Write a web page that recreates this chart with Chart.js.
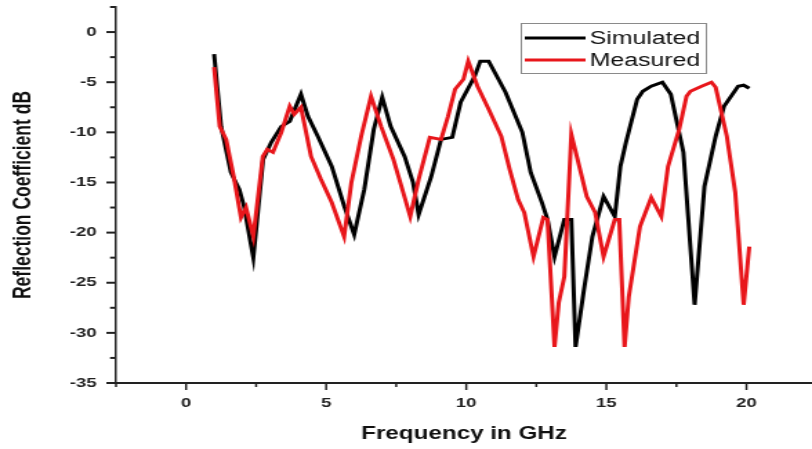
<!DOCTYPE html>
<html>
<head>
<meta charset="utf-8">
<script src="https://cdn.jsdelivr.net/npm/chart.js@4/dist/chart.umd.min.js"></script>
<style>
  html, body { margin: 0; padding: 0; background: #fff; overflow: hidden; }
  #wrap { width: 812px; height: 449px; overflow: hidden; }
  #c { display: block; transform: scaleX(1.381); transform-origin: 0 0; }
</style>
</head>
<body>
<div id="wrap"><canvas id="c" width="588" height="449"></canvas></div>
<script>
// Data (frequency in GHz, reflection coefficient in dB)
const simFreq = [1.0, 1.25, 1.6, 1.9, 2.07, 2.4, 2.75, 3.04, 3.4, 3.7, 4.1, 4.35, 4.7, 5.2, 5.65, 6.0, 6.36, 6.7, 7.0, 7.3, 7.8, 8.1, 8.3, 8.75, 9.1, 9.5, 9.8, 10.3, 10.5, 10.8, 11.4, 12.0, 12.3, 12.7, 12.9, 13.15, 13.5, 13.75, 13.9, 14.2, 14.5, 14.9, 15.3, 15.5, 15.7, 16.1, 16.3, 16.6, 17.0, 17.3, 17.75, 18.15, 18.5, 18.9, 19.2, 19.7, 19.9, 20.1];
const simDb   = [-2.2, -9.4, -14, -15.7, -17.4, -22.5, -12.7, -11, -9.4, -8.9, -6.2, -8.4, -10.4, -13.4, -17.4, -20.2, -15.7, -9.7, -6.5, -9.4, -12.4, -15, -18.2, -14.4, -10.7, -10.5, -7, -4.4, -2.9, -2.9, -6, -10, -14, -17, -18.7, -22.4, -18.7, -18.7, -31.4, -25.7, -20.4, -16.4, -18.4, -13.4, -11, -6.7, -5.9, -5.4, -5, -6.2, -12, -27.2, -15.4, -10.4, -7.4, -5.4, -5.3, -5.6];

const measFreq = [1.0, 1.2, 1.43, 1.7, 1.96, 2.14, 2.4, 2.74, 2.9, 3.1, 3.4, 3.7, 3.86, 4.1, 4.46, 4.8, 5.2, 5.64, 5.9, 6.25, 6.6, 6.96, 7.4, 7.75, 8.0, 8.3, 8.7, 9.1, 9.35, 9.6, 9.9, 10.07, 10.4, 10.8, 11.25, 11.55, 11.85, 12.07, 12.4, 12.75, 12.9, 13.15, 13.3, 13.5, 13.75, 14.3, 14.6, 14.9, 15.3, 15.46, 15.65, 15.8, 16.2, 16.6, 16.96, 17.2, 17.6, 17.86, 18.0, 18.4, 18.75, 18.9, 19.3, 19.6, 19.9, 20.1];
const measDb   = [-3.5, -9.4, -10.7, -14.4, -18.5, -17.5, -20.4, -12.4, -11.7, -12, -10, -7.4, -8.2, -7.5, -12.4, -14.6, -17, -20.4, -15, -10.4, -6.4, -9.4, -12.7, -16, -18.4, -14.7, -10.5, -10.7, -8.4, -5.7, -4.7, -2.9, -5.4, -7.7, -10.4, -13.7, -16.7, -18, -22.4, -18.5, -18.7, -31.4, -27, -24.4, -10.2, -16.4, -18, -22.4, -18.7, -18.7, -31.4, -26.4, -19.4, -16.5, -18.4, -13.4, -9.7, -6.4, -5.9, -5.4, -5, -5.5, -10.4, -16, -27.2, -21.4];

const seriesNames = ['Simulated', 'Measured'];
const xTitle = 'Frequency in GHz';
const yTitle = 'Reflection Coefficient dB';

const toPts = (xs, ys) => xs.map((x, i) => ({ x: x, y: ys[i] }));

const FONT = "'Liberation Sans', Arial, sans-serif";
const AXIS = '#222';

const tickPlugin = {
  id: 'tickMarks',
  afterDraw(chart) {
    const ctx = chart.ctx;
    const xs = chart.scales.x, ys = chart.scales.y;
    ctx.save();
    ctx.strokeStyle = AXIS;
    ctx.lineWidth = 1.5;
    xs.ticks.forEach(t => {
      const px = xs.getPixelForValue(t.value);
      const len = (Math.abs(t.value % 5) < 1e-9) ? 7 : 4;
      ctx.beginPath();
      ctx.moveTo(px, xs.top);
      ctx.lineTo(px, xs.top + len);
      ctx.stroke();
    });
    ctx.lineWidth = 2;
    ys.ticks.forEach(t => {
      const py = ys.getPixelForValue(t.value);
      const len = (Math.abs(t.value % 5) < 1e-9) ? 7 : 4.3;
      ctx.beginPath();
      ctx.moveTo(ys.right, py);
      ctx.lineTo(ys.right - len, py);
      ctx.stroke();
    });
    ctx.restore();
  }
};

const legendPlugin = {
  id: 'boxLegend',
  afterDraw(chart) {
    const ctx = chart.ctx;
    const items = chart.data.datasets;
    ctx.save();
    ctx.fillStyle = '#fff';
    ctx.fillRect(377, 23, 134, 50);
    ctx.strokeStyle = '#8a8a8a';
    ctx.lineWidth = 1;
    ctx.strokeRect(377.5, 23.5, 134, 50);
    ctx.font = "18px " + FONT;
    ctx.textBaseline = 'middle';
    ctx.textAlign = 'left';
    const rows = [38, 60];
    items.forEach((ds, i) => {
      const y = rows[i];
      ctx.strokeStyle = ds.borderColor;
      ctx.lineWidth = 3;
      ctx.beginPath();
      ctx.moveTo(380, y);
      ctx.lineTo(424, y);
      ctx.stroke();
      ctx.fillStyle = '#111';
      ctx.fillText(ds.label, 427, y + 1);
    });
    ctx.restore();
  }
};

new Chart(document.getElementById('c'), {
  type: 'line',
  data: {
    datasets: [
      { label: seriesNames[0], data: toPts(simFreq, simDb), borderColor: '#000000', borderWidth: 3, pointRadius: 0, tension: 0, fill: false, order: 1 },
      { label: seriesNames[1], data: toPts(measFreq, measDb), borderColor: '#e8161b', borderWidth: 3, pointRadius: 0, tension: 0, fill: false, order: 0 }
    ]
  },
  options: {
    responsive: false,
    animation: false,
    events: [],
    layout: { padding: { top: 7, right: 0, left: 0, bottom: 0 } },
    plugins: { legend: { display: false }, tooltip: { enabled: false } },
    scales: {
      x: {
        type: 'linear',
        min: -2.5,
        max: 22.34,
        ticks: {
          stepSize: 2.5,
          includeBounds: false,
          autoSkip: false,
          maxRotation: 0,
          padding: 5,
          color: AXIS,
          font: { family: FONT, size: 13.5, weight: 'bold' },
          callback: v => (Math.abs(v % 5) < 1e-9 ? String(v) : '')
        },
        grid: { drawOnChartArea: false, drawTicks: true, tickLength: 7, tickColor: 'transparent' },
        border: { color: AXIS, width: 2 },
        title: {
          display: true,
          text: xTitle,
          color: '#111',
          font: { family: FONT, size: 17.5, weight: 'bold' },
          padding: { top: 0, bottom: 4 }
        },
        afterFit: s => { s.height = 66; s.paddingLeft = 0; s.paddingRight = 0; }
      },
      y: {
        type: 'linear',
        min: -35,
        max: 2.5,
        ticks: {
          stepSize: 2.5,
          includeBounds: false,
          autoSkip: false,
          padding: 7,
          color: AXIS,
          font: { family: FONT, size: 13.5, weight: 'bold' },
          callback: v => (Math.abs(v % 5) < 1e-9 ? String(v) : '')
        },
        grid: { drawOnChartArea: false, drawTicks: true, tickLength: 7, tickColor: 'transparent' },
        border: { color: AXIS, width: 1.5 },
        title: {
          display: true,
          text: yTitle,
          color: '#111',
          font: { family: FONT, size: 17.5, weight: 'bold' },
          padding: { top: 7, bottom: 0 }
        },
        afterFit: s => { s.width = 84; s.paddingTop = 0; s.paddingBottom = 0; }
      }
    }
  },
  plugins: [tickPlugin, legendPlugin]
});
</script>
</body>
</html>
